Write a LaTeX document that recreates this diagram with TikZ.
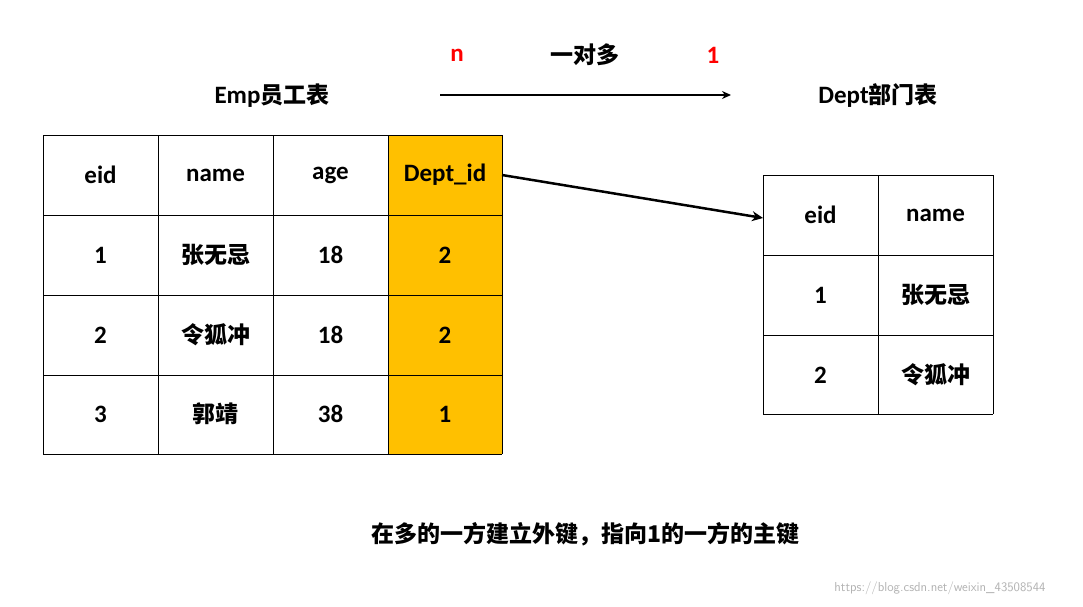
\documentclass[tikz,border=0pt]{standalone}
\usepackage{fontspec}
\usetikzlibrary{arrows.meta}
\setmainfont{Carlito}
\newfontfamily\cjk{Noto Sans CJK SC}
\begin{document}
\begin{tikzpicture}[x=1pt,y=-1pt,
  txt/.style={font=\fontsize{25}{28}\selectfont\bfseries, inner sep=0},
  cn/.style={font=\fontsize{23}{26}\selectfont\cjk\bfseries, inner sep=0},
  cell/.style={draw=black, line width=1pt}]
\useasboundingbox (0,0) rectangle (1083,607);
\fill[white] (0,0) rectangle (1083,607);
% Emp table
\fill[fill={rgb,255:red,255;green,192;blue,0}] (388,135) rectangle (502,454);
\foreach \x in {43,158,273,388,502} \draw[cell] (\x,135) -- (\x,454);
\foreach \y in {135,215,295,375,454} \draw[cell] (43,\y) -- (502,\y);
\node[txt] (h1) at (100.5,175) {eid};
\node[txt] (h2) at (215.5,175) {name};
\node[txt] (h3) at (330.5,175) {age};
\node[txt] (h4) at (445,175) {Dept\_id};
\node[txt] at (100.5,255) {1};
\node[cn] at (215.5,255) {张无忌};
\node[txt] at (330.5,255) {18};
\node[txt] at (445,255) {2};
\node[txt] at (100.5,335) {2};
\node[cn] at (215.5,335) {令狐冲};
\node[txt] at (330.5,335) {18};
\node[txt] at (445,335) {2};
\node[txt] at (100.5,414) {3};
\node[cn] at (215.5,414) {郭靖};
\node[txt] at (330.5,414) {38};
\node[txt] at (445,414) {1};
% Dept table
\foreach \x in {763,878,993} \draw[cell] (\x,175) -- (\x,414);
\foreach \y in {175,255,335,414} \draw[cell] (763,\y) -- (993,\y);
\node[txt] (d1) at (820.5,215) {eid};
\node[txt] at (935.5,215) {name};
\node[txt] at (820.5,295) {1};
\node[cn] at (935.5,295) {张无忌};
\node[txt] at (820.5,375) {2};
\node[cn] at (935.5,375) {令狐冲};
% titles
\node[txt] (t1) at (272,96) {Emp{\cjk\fontsize{23}{26}\selectfont 员工表}};
\node[txt] (t2) at (878,96) {Dept{\cjk\fontsize{23}{26}\selectfont 部门表}};
\coordinate (a1) at (440,95);
\coordinate (a2) at (731,95);
\draw[line width=2pt,-{Stealth[length=9pt,width=8pt]}] (a1) -- (a2);
\node[txt,red] at (457,55) {n};
\node[cn] at (585,55) {一对多};
\node[txt,red] at (713,55) {1};
\coordinate (f1) at (502,175);
\coordinate (f2) at (763,218);
\draw[line width=2.5pt,-{Stealth[length=11pt,width=10pt]}] (f1) -- (f2);
\node[cn] at (585,534) {在多的一方建立外键，指向1的一方的主键};
\node[font=\fontsize{13}{15}\selectfont\sffamily, text=gray!60, inner sep=0] at (940,588) {https://blog.csdn.net/weixin\_43508544};
\end{tikzpicture}
\end{document}
